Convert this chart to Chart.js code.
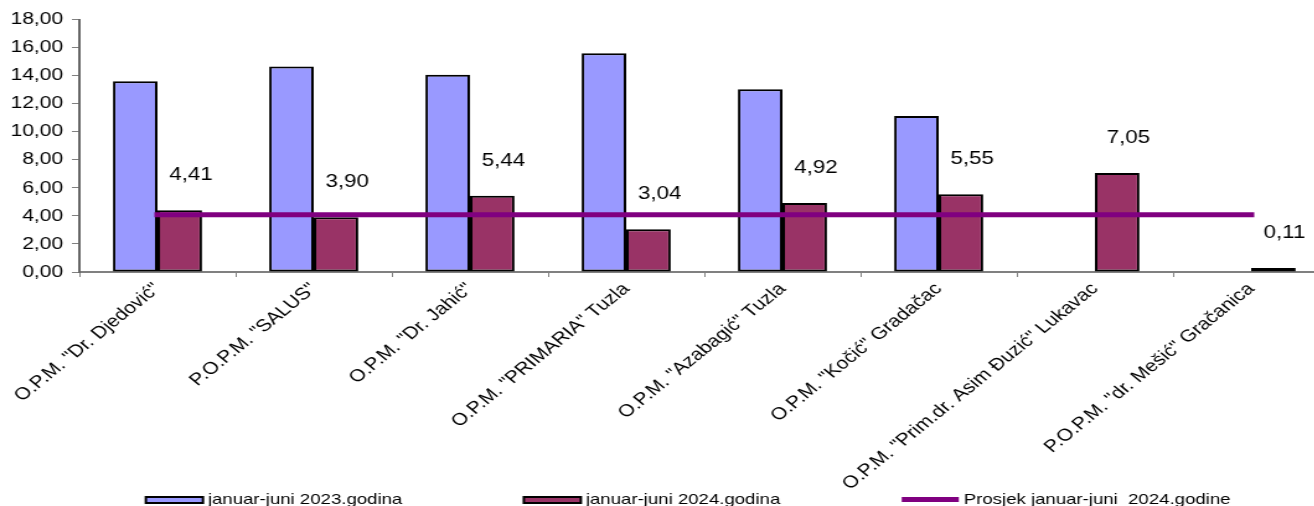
<!DOCTYPE html>
<html>
<head>
<meta charset="utf-8">
<script src="https://cdn.jsdelivr.net/npm/chart.js@4"></script>
<style>
    html, body { margin: 0; padding: 0; background: #fff; overflow: hidden; }
    #chart_div { position: absolute; left: 0; top: 0; width: 1113px; height: 506px; transform: scaleX(1.24); transform-origin: 0 0; }
</style>
</head>
<body>
<div id="chart_div"><canvas id="ordinacije_chart" width="1113" height="506"></canvas></div>
<script>
const categories = [
    'O.P.M. "Dr. Djedović"',
    'P.O.P.M. "SALUS"',
    'O.P.M. "Dr. Jahić"',
    'O.P.M. "PRIMARIA" Tuzla',
    'O.P.M. "Azabagić" Tuzla',
    'O.P.M. "Kočić" Gradačac',
    'O.P.M. "Prim.dr. Asim Đuzić" Lukavac',
    'P.O.P.M. "dr. Mešić" Gračanica'
];
const values_2023 = [13.60, 14.65, 14.07, 15.60, 13.03, 11.12, null, null];
const values_2024 = [4.41, 3.90, 5.44, 3.04, 4.92, 5.55, 7.05, 0.11];
const average_2024 = [4.08, 4.08, 4.08, 4.08, 4.08, 4.08, 4.08, 4.08];
const y_ticks = [0, 2, 4, 6, 8, 10, 12, 14, 16, 18];

function comma_format(v) {
    return Number(v).toFixed(2).replace('.', ',');
}

const font_family = '"Liberation Sans", Arial, sans-serif';
Chart.defaults.font.family = font_family;
Chart.defaults.color = '#000';

// value labels above the 2024 bars
const value_labels = {
    id: 'value_labels',
    afterDatasetsDraw(chart) {
        const ctx = chart.ctx;
        const meta = chart.getDatasetMeta(1);
        ctx.save();
        ctx.font = '18px ' + font_family;
        ctx.fillStyle = '#000';
        ctx.textAlign = 'center';
        ctx.textBaseline = 'middle';
        meta.data.forEach(function (bar, i) {
            const v = values_2024[i];
            if (v === null) return;
            ctx.fillText(comma_format(v), bar.x + 9, bar.y - 35);
        });
        ctx.restore();
    }
};

// legend row along the bottom edge, like the Excel one
const bottom_legend = {
    id: 'bottom_legend',
    afterDraw(chart) {
        const ctx = chart.ctx;
        const box_w = 46, box_h = 6, text_gap = 4, item_gap = 98;
        const center_x = 555, y = 500;
        ctx.save();
        ctx.font = '15px ' + font_family;
        ctx.textBaseline = 'middle';
        ctx.textAlign = 'left';
        const sets = chart.data.datasets;
        const widths = sets.map(ds => box_w + text_gap + ctx.measureText(ds.label).width);
        const total = widths.reduce((a, b) => a + b, 0) + item_gap * (sets.length - 1);
        let x = center_x - total / 2;
        sets.forEach(function (ds, i) {
            if (ds.type === 'line') {
                ctx.fillStyle = ds.borderColor;
                ctx.fillRect(x, y - 3, box_w, 5);
            } else {
                ctx.fillStyle = ds.backgroundColor;
                ctx.fillRect(x, y - box_h / 2, box_w, box_h);
                ctx.lineWidth = 2;
                ctx.strokeStyle = '#000';
                ctx.strokeRect(x, y - box_h / 2, box_w, box_h);
            }
            ctx.fillStyle = '#000';
            ctx.fillText(ds.label, x + box_w + text_gap, y);
            x += widths[i] + item_gap;
        });
        ctx.restore();
    }
};

const chart = new Chart(document.getElementById('ordinacije_chart'), {
    data: {
        labels: categories,
        datasets: [{
            type: 'bar',
            label: 'januar-juni 2023.godina',
            data: values_2023,
            backgroundColor: '#9999FF',
            borderColor: '#000',
            borderWidth: 2,
            borderSkipped: false,
            categoryPercentage: 0.57,
            barPercentage: 1.0,
            order: 1
        }, {
            type: 'bar',
            label: 'januar-juni 2024.godina',
            data: values_2024,
            backgroundColor: '#993366',
            borderColor: '#000',
            borderWidth: 2,
            borderSkipped: false,
            minBarLength: 4,
            categoryPercentage: 0.57,
            barPercentage: 1.0,
            order: 1
        }, {
            type: 'line',
            label: 'Prosjek januar-juni  2024.godine',
            data: average_2024,
            borderColor: '#800080',
            backgroundColor: '#800080',
            borderWidth: 5,
            borderCapStyle: 'square',
            pointRadius: 0,
            fill: false,
            order: 0
        }]
    },
    options: {
        responsive: false,
        animation: false,
        layout: { padding: { top: 19.5, left: 0, right: 0, bottom: 0 } },
        scales: {
            x: {
                offset: true,
                grid: { offset: true, drawOnChartArea: false, tickLength: 5, color: '#808080' },
                border: { color: '#808080', width: 2 },
                ticks: {
                    autoSkip: false,
                    minRotation: 45,
                    maxRotation: 45,
                    padding: 2,
                    font: { size: 17 }
                },
                afterFit: function (scale) {
                    scale.height = 234;
                    scale.paddingRight = 41;
                }
            },
            y: {
                min: 0,
                max: 18,
                afterBuildTicks: function (scale) {
                    scale.ticks = y_ticks.map(v => ({ value: v }));
                },
                grid: { drawOnChartArea: false, tickLength: 6, color: '#808080' },
                border: { color: '#666', width: 2 },
                ticks: {
                    padding: 7,
                    font: { size: 17 },
                    callback: v => comma_format(v)
                },
                afterFit: function (scale) {
                    scale.width = 64;
                }
            }
        },
        plugins: {
            tooltip: { enabled: false },
            legend: { display: false }
        }
    },
    plugins: [value_labels, bottom_legend]
});
</script>
</body>
</html>
